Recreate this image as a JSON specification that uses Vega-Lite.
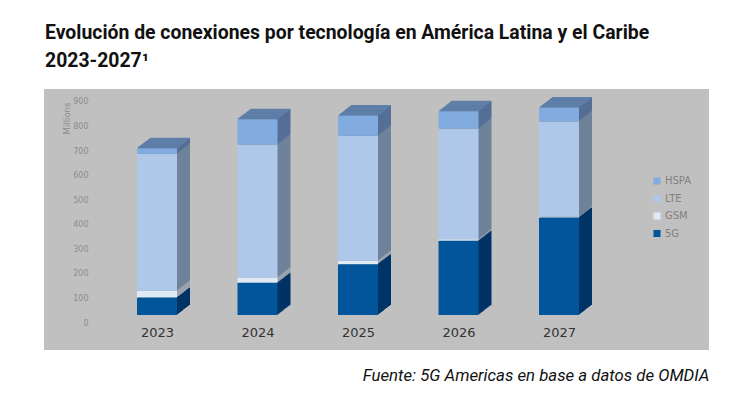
{"$schema":"https://vega.github.io/schema/vega-lite/v6.json","width":665,"height":261,"autosize":"none","padding":{"left":44,"top":89,"right":41,"bottom":50},"background":"#ffffff","view":{"fill":"#c0c0c0","stroke":null},
"title":{"text":["Evolución de conexiones por tecnología en América Latina y el Caribe","2023-2027¹"],"anchor":"start","frame":"group","font":"Roboto","fontWeight":"bold","fontSize":19.4,"lineHeight":28,"color":"#111111","offset":18,"dx":1},
"data":{"values":[
{"anio":"2023","tecnologia":"5G","orden":1,"valor":104},{"anio":"2023","tecnologia":"GSM","orden":2,"valor":28},{"anio":"2023","tecnologia":"LTE","orden":3,"valor":557},{"anio":"2023","tecnologia":"HSPA","orden":4,"valor":23},
{"anio":"2024","tecnologia":"5G","orden":1,"valor":164},{"anio":"2024","tecnologia":"GSM","orden":2,"valor":22},{"anio":"2024","tecnologia":"LTE","orden":3,"valor":541},{"anio":"2024","tecnologia":"HSPA","orden":4,"valor":103},
{"anio":"2025","tecnologia":"5G","orden":1,"valor":240},{"anio":"2025","tecnologia":"GSM","orden":2,"valor":14},{"anio":"2025","tecnologia":"LTE","orden":3,"valor":509},{"anio":"2025","tecnologia":"HSPA","orden":4,"valor":82},
{"anio":"2026","tecnologia":"5G","orden":1,"valor":335},{"anio":"2026","tecnologia":"GSM","orden":2,"valor":6},{"anio":"2026","tecnologia":"LTE","orden":3,"valor":451},{"anio":"2026","tecnologia":"HSPA","orden":4,"valor":70},
{"anio":"2027","tecnologia":"5G","orden":1,"valor":430},{"anio":"2027","tecnologia":"GSM","orden":2,"valor":3},{"anio":"2027","tecnologia":"LTE","orden":3,"valor":388},{"anio":"2027","tecnologia":"HSPA","orden":4,"valor":56}]},
"resolve":{"scale":{"color":"independent"},"legend":{"color":"independent"}},
"encoding":{
"x":{"field":"anio","type":"ordinal","scale":{"type":"point","range":[113,515],"padding":0},"axis":{"orient":"bottom","offset":-26,"domain":false,"ticks":false,"labelAngle":0,"labelFont":"DejaVu Sans","labelFontSize":13,"labelColor":"#333333","labelPadding":2,"title":"Fuente: 5G Americas en base a datos de OMDIA","titleFont":"Roboto","titleFontStyle":"italic","titleFontWeight":"normal","titleFontSize":16.8,"titleColor":"#111111","titleAlign":"right","titleAnchor":"end","titleX":665,"titleY":43}},
"y":{"field":"valor","type":"quantitative","stack":"zero","scale":{"domain":[33,952.8],"range":[226,0],"clamp":true,"nice":false,"zero":false},"axis":{"values":[0,100,200,300,400,500,600,700,800,900],"offset":-48,"domain":false,"ticks":false,"grid":false,"labelFont":"DejaVu Sans","labelFontSize":8,"labelColor":"#8c8c8c","labelPadding":4,"labelOffset":{"condition":{"test":"datum.value==0","value":8},"value":0},"title":"Millions","titleFont":"DejaVu Sans","titleFontSize":8.5,"titleFontWeight":"normal","titleColor":"#8c8c8c","titleX":-21,"titleY":29}},
"order":{"field":"orden","type":"quantitative"},
"color":{"field":"tecnologia","type":"nominal","legend":null,"scale":{"domain":["HSPA","LTE","GSM","5G"],"range":["#546e96","#6e8299","#9aa3ad","#003366"]}}},
"layer":[
{"mark":{"type":"bar","size":40,"xOffset":13,"yOffset":-10,"y2Offset":-10}},
{"mark":{"type":"tick","size":40,"thickness":1,"xOffset":13,"yOffset":-10},"encoding":{"y":{"aggregate":"sum","field":"valor","type":"quantitative"},"color":{"value":"#5f80aa"},"order":null}},
{"mark":{"type":"bar","size":40,"xOffset":12,"yOffset":-9.2,"y2Offset":-9.2}},
{"mark":{"type":"tick","size":40,"thickness":1,"xOffset":12,"yOffset":-9.2},"encoding":{"y":{"aggregate":"sum","field":"valor","type":"quantitative"},"color":{"value":"#5f80aa"},"order":null}},
{"mark":{"type":"bar","size":40,"xOffset":11,"yOffset":-8.5,"y2Offset":-8.5}},
{"mark":{"type":"tick","size":40,"thickness":1,"xOffset":11,"yOffset":-8.5},"encoding":{"y":{"aggregate":"sum","field":"valor","type":"quantitative"},"color":{"value":"#5f80aa"},"order":null}},
{"mark":{"type":"bar","size":40,"xOffset":10,"yOffset":-7.7,"y2Offset":-7.7}},
{"mark":{"type":"tick","size":40,"thickness":1,"xOffset":10,"yOffset":-7.7},"encoding":{"y":{"aggregate":"sum","field":"valor","type":"quantitative"},"color":{"value":"#5f80aa"},"order":null}},
{"mark":{"type":"bar","size":40,"xOffset":9,"yOffset":-6.9,"y2Offset":-6.9}},
{"mark":{"type":"tick","size":40,"thickness":1,"xOffset":9,"yOffset":-6.9},"encoding":{"y":{"aggregate":"sum","field":"valor","type":"quantitative"},"color":{"value":"#5f80aa"},"order":null}},
{"mark":{"type":"bar","size":40,"xOffset":8,"yOffset":-6.2,"y2Offset":-6.2}},
{"mark":{"type":"tick","size":40,"thickness":1,"xOffset":8,"yOffset":-6.2},"encoding":{"y":{"aggregate":"sum","field":"valor","type":"quantitative"},"color":{"value":"#5f80aa"},"order":null}},
{"mark":{"type":"bar","size":40,"xOffset":7,"yOffset":-5.4,"y2Offset":-5.4}},
{"mark":{"type":"tick","size":40,"thickness":1,"xOffset":7,"yOffset":-5.4},"encoding":{"y":{"aggregate":"sum","field":"valor","type":"quantitative"},"color":{"value":"#5f80aa"},"order":null}},
{"mark":{"type":"bar","size":40,"xOffset":6,"yOffset":-4.6,"y2Offset":-4.6}},
{"mark":{"type":"tick","size":40,"thickness":1,"xOffset":6,"yOffset":-4.6},"encoding":{"y":{"aggregate":"sum","field":"valor","type":"quantitative"},"color":{"value":"#5f80aa"},"order":null}},
{"mark":{"type":"bar","size":40,"xOffset":5,"yOffset":-3.8,"y2Offset":-3.8}},
{"mark":{"type":"tick","size":40,"thickness":1,"xOffset":5,"yOffset":-3.8},"encoding":{"y":{"aggregate":"sum","field":"valor","type":"quantitative"},"color":{"value":"#5f80aa"},"order":null}},
{"mark":{"type":"bar","size":40,"xOffset":4,"yOffset":-3.1,"y2Offset":-3.1}},
{"mark":{"type":"tick","size":40,"thickness":1,"xOffset":4,"yOffset":-3.1},"encoding":{"y":{"aggregate":"sum","field":"valor","type":"quantitative"},"color":{"value":"#5f80aa"},"order":null}},
{"mark":{"type":"bar","size":40,"xOffset":3,"yOffset":-2.3,"y2Offset":-2.3}},
{"mark":{"type":"tick","size":40,"thickness":1,"xOffset":3,"yOffset":-2.3},"encoding":{"y":{"aggregate":"sum","field":"valor","type":"quantitative"},"color":{"value":"#5f80aa"},"order":null}},
{"mark":{"type":"bar","size":40,"xOffset":2,"yOffset":-1.5,"y2Offset":-1.5}},
{"mark":{"type":"tick","size":40,"thickness":1,"xOffset":2,"yOffset":-1.5},"encoding":{"y":{"aggregate":"sum","field":"valor","type":"quantitative"},"color":{"value":"#5f80aa"},"order":null}},
{"mark":{"type":"bar","size":40,"xOffset":1,"yOffset":-0.8,"y2Offset":-0.8}},
{"mark":{"type":"tick","size":40,"thickness":1,"xOffset":1,"yOffset":-0.8},"encoding":{"y":{"aggregate":"sum","field":"valor","type":"quantitative"},"color":{"value":"#5f80aa"},"order":null}},
{"mark":{"type":"bar","size":40},"encoding":{"color":{"field":"tecnologia","type":"nominal","scale":{"domain":["HSPA","LTE","GSM","5G"],"range":["#82acdf","#afc7e8","#deebf7","#00559b"]},"legend":{"title":null,"orient":"none","legendX":608,"legendY":87,"symbolType":"square","symbolSize":50,"rowPadding":7.5,"labelOffset":3,"labelFont":"DejaVu Sans","labelFontSize":10,"labelColor":"#808080","symbolStrokeWidth":0}}}}
]}
